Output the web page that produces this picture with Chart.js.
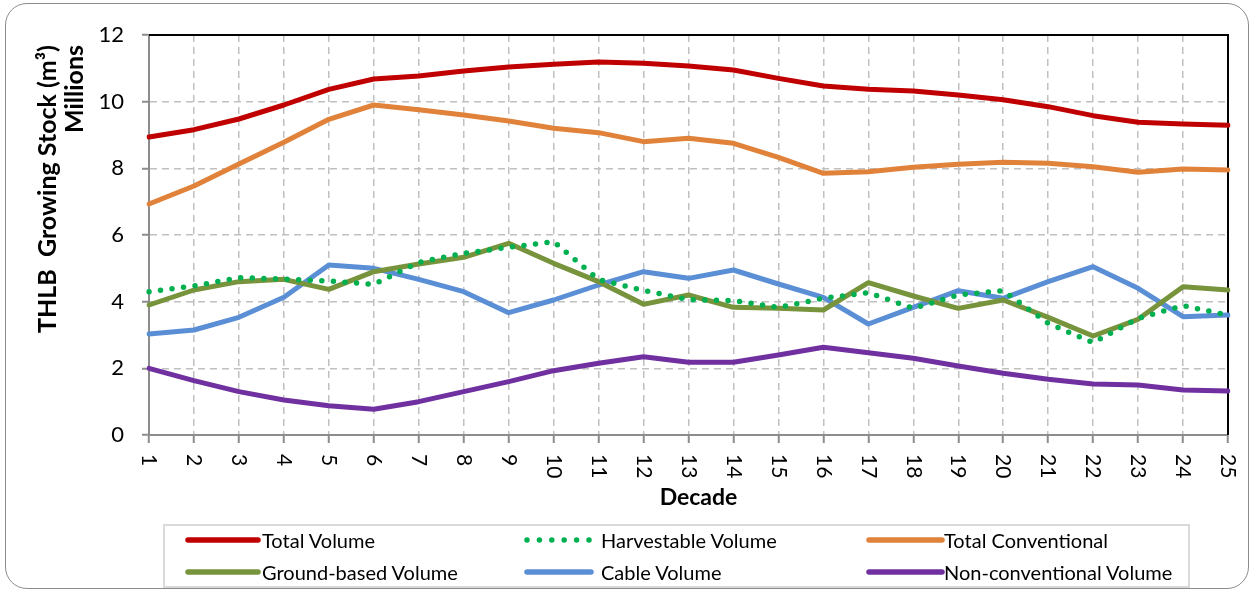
<!DOCTYPE html>
<html>
<head>
<meta charset="utf-8">
<script src="https://cdn.jsdelivr.net/npm/chart.js@4.4.1/dist/chart.umd.min.js"></script>
<style>
  html, body { margin: 0; padding: 0; background: #fff; }
  #wrap { position: relative; width: 1252px; height: 592px; overflow: hidden; }
  #chart { position: absolute; left: 0; top: 0; }
  #frame {
    position: absolute; left: 5px; top: 3px; width: 1242px; height: 584px;
    border: 1.5px solid #8c8c8c; border-radius: 22px; pointer-events: none;
  }
  #legend {
    position: absolute; left: 163px; top: 524px; width: 1027px; height: 64px;
    border: 2px solid #d9d9d9; box-sizing: border-box;
    font-family: Lato, "Liberation Sans", sans-serif; font-size: 20px; color: #000;
  }
  .item { position: absolute; height: 24px; line-height: 24px; white-space: nowrap; }
  .item canvas { position: absolute; left: 0; top: 0; }
  .item span { position: absolute; top: 0; }
</style>
</head>
<body>
<div id="wrap">
  <canvas id="chart" width="1252" height="592"></canvas>
  <div id="legend"></div>
  <div id="frame"></div>
</div>
<script>
// Decades on the x axis
const decades = ['1','2','3','4','5','6','7','8','9','10','11','12','13','14','15','16','17','18','19','20','21','22','23','24','25'];

// Growing stock per decade, millions of m³
const totalVolume        = [8.94, 9.16, 9.48, 9.90, 10.37, 10.68, 10.77, 10.92, 11.04, 11.12, 11.19, 11.15, 11.07, 10.95, 10.70, 10.47, 10.37, 10.32, 10.20, 10.06, 9.85, 9.58, 9.38, 9.33, 9.29];
const harvestableVolume  = [4.30, 4.47, 4.72, 4.68, 4.62, 4.52, 5.18, 5.45, 5.63, 5.80, 4.66, 4.34, 4.06, 4.03, 3.83, 4.10, 4.27, 3.80, 4.20, 4.33, 3.35, 2.77, 3.50, 3.88, 3.60];
const totalConventional  = [6.93, 7.47, 8.13, 8.78, 9.47, 9.90, 9.76, 9.60, 9.42, 9.20, 9.07, 8.80, 8.90, 8.75, 8.33, 7.85, 7.90, 8.03, 8.12, 8.18, 8.15, 8.05, 7.88, 7.98, 7.95];
const groundBasedVolume  = [3.90, 4.35, 4.60, 4.67, 4.37, 4.90, 5.13, 5.33, 5.75, 5.15, 4.60, 3.92, 4.20, 3.83, 3.80, 3.75, 4.57, 4.17, 3.80, 4.05, 3.53, 2.97, 3.47, 4.45, 4.35];
const cableVolume        = [3.03, 3.15, 3.53, 4.13, 5.10, 5.00, 4.67, 4.30, 3.67, 4.05, 4.50, 4.90, 4.70, 4.95, 4.53, 4.13, 3.33, 3.83, 4.33, 4.10, 4.60, 5.05, 4.40, 3.55, 3.60];
const nonConventional    = [2.00, 1.63, 1.30, 1.05, 0.88, 0.77, 1.00, 1.30, 1.60, 1.93, 2.15, 2.35, 2.18, 2.18, 2.40, 2.63, 2.47, 2.30, 2.07, 1.85, 1.67, 1.53, 1.50, 1.35, 1.32];

const yTicks = [0, 2, 4, 6, 8, 10, 12];
const yTitle = 'THLB  Growing Stock (m³)';
const yUnits = 'Millions';
const xTitle = 'Decade';

const FONT = 'Lato, "Liberation Sans", sans-serif';
Chart.defaults.font.family = FONT;
Chart.defaults.color = '#000';

function solid(label, data, color) {
  return { label, data, borderColor: color, backgroundColor: color, borderWidth: 5,
           pointRadius: 0, tension: 0, borderCapStyle: 'round', borderJoinStyle: 'round' };
}
function dotted(label, data, color) {
  return { label, data, borderColor: color, backgroundColor: color, borderWidth: 5.5,
           pointRadius: 0, tension: 0, borderCapStyle: 'round', borderDash: [0, 11.6], dotted: true };
}

const datasets = [
  solid('Total Volume', totalVolume, '#C00000'),
  dotted('Harvestable Volume', harvestableVolume, '#00B050'),
  solid('Total Conventional', totalConventional, '#E0823A'),
  solid('Ground-based Volume', groundBasedVolume, '#77933C'),
  solid('Cable Volume', cableVolume, '#5A8FD6'),
  solid('Non-conventional Volume', nonConventional, '#7030A0')
];
datasets.forEach((d, i) => { d.order = i; });

// Dark frame on the top and right edges of the plot area
const plotFrame = {
  id: 'plotFrame',
  beforeDatasetsDraw(chart) {
    const { ctx, chartArea: a } = chart;
    ctx.save();
    ctx.strokeStyle = '#000';
    ctx.lineWidth = 2;
    ctx.beginPath();
    ctx.moveTo(a.left, a.top);
    ctx.lineTo(a.right, a.top);
    ctx.lineTo(a.right, a.bottom);
    ctx.stroke();
    ctx.restore();
  }
};

// Decade labels turned a quarter clockwise (reading top to bottom),
// the axis titles, and the units label near the top of the value axis
const axisText = {
  id: 'axisText',
  afterDraw(chart) {
    const { ctx, chartArea: a } = chart;
    const sx = chart.scales.x;
    ctx.save();
    ctx.fillStyle = '#000';
    ctx.font = '21px ' + FONT;
    ctx.textAlign = 'left';
    ctx.textBaseline = 'middle';
    sx.ticks.forEach((t, i) => {
      const x = sx.getPixelForTick(i);
      ctx.save();
      ctx.translate(x, sx.top + 19);
      ctx.rotate(Math.PI / 2);
      ctx.fillText(chart.data.labels[i], 0, 0);
      ctx.restore();
    });

    ctx.font = 'bold 23px ' + FONT;
    ctx.textAlign = 'center';
    ctx.fillText(xTitle, (a.left + a.right) / 2 + 10, sx.top + 63);

    const sy = chart.scales.y;
    ctx.font = 'bold 25px ' + FONT;
    ctx.save();
    ctx.translate(sy.left + 14, a.top + 154);
    ctx.rotate(-Math.PI / 2);
    ctx.textAlign = 'center';
    ctx.fillText(yTitle, 0, 0);
    ctx.restore();
    ctx.save();
    ctx.translate(sy.left + 41, a.top + 10);
    ctx.rotate(-Math.PI / 2);
    ctx.textAlign = 'right';
    ctx.fillText(yUnits, 0, 0);
    ctx.restore();
    ctx.restore();
  }
};

const chart = new Chart(document.getElementById('chart'), {
  type: 'line',
  data: { labels: decades, datasets },
  options: {
    responsive: false,
    animation: false,
    layout: { padding: { left: 34, right: 24, top: 35, bottom: 82 } },
    plugins: { legend: { display: false }, tooltip: { enabled: false } },
    scales: {
      x: {
        offset: false,
        grid: { color: '#C0C0C0', lineWidth: 1.5, drawTicks: true,
                tickLength: 8, tickColor: '#8c8c8c', tickWidth: 2, tickBorderDash: [] },
        border: { color: '#8c8c8c', width: 2, dash: [7, 5] },
        ticks: { display: false, autoSkip: false },
        title: { display: false },
        afterFit(scale) { scale.height = 75; }
      },
      y: {
        min: 0, max: 12,
        afterBuildTicks(scale) { scale.ticks = yTicks.map(v => ({ value: v })); },
        grid: { color: '#C0C0C0', lineWidth: 1.5, drawTicks: true,
                tickLength: 7, tickColor: '#8c8c8c', tickWidth: 2, tickBorderDash: [] },
        border: { color: '#8c8c8c', width: 2, dash: [7, 5] },
        ticks: { padding: 18, font: { size: 22 }, color: '#000' },
        title: { display: false },
        afterFit(scale) { scale.width = 115; }
      }
    }
  },
  plugins: [plotFrame, axisText]
});

// Legend built from the chart's own datasets, three columns by two rows
const legendEl = document.getElementById('legend');
const colX = [20, 359, 701];      // sample start per column
const rowY = [2, 34];             // row tops
const sampleW = [70, 64, 73];
const textX = [77, 77, 78];
chart.data.datasets.forEach((ds, k) => {
  const col = k % 3, row = Math.floor(k / 3);
  const item = document.createElement('div');
  item.className = 'item';
  item.style.left = colX[col] + 'px';
  item.style.top = rowY[row] + 'px';
  const c = document.createElement('canvas');
  c.width = sampleW[col] + 8; c.height = 24;
  const g = c.getContext('2d');
  g.strokeStyle = ds.borderColor;
  g.lineCap = 'round';
  g.lineWidth = 5.5;
  if (ds.dotted) g.setLineDash([0, 12.4]);
  g.beginPath();
  g.moveTo(3, 12); g.lineTo(3 + sampleW[col], 12);
  g.stroke();
  item.appendChild(c);
  const s = document.createElement('span');
  s.textContent = ds.label;
  s.style.left = textX[col] + 'px';
  item.appendChild(s);
  legendEl.appendChild(item);
});
</script>
</body>
</html>
